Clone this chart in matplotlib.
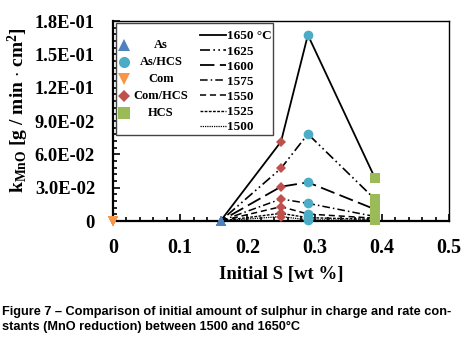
import matplotlib
matplotlib.use('Agg')
import matplotlib.pyplot as plt
from matplotlib.ticker import MultipleLocator, FixedLocator, FixedFormatter
from matplotlib.patches import Rectangle

# === Data ===
temps = ['1650 °C', '1625', '1600', '1575', '1550', '1525', '1500']
s_com, s_as, s_comhcs, s_ashcs, s_hcs = 0.0, 0.16, 0.25, 0.29, 0.39
k_com = [0, 0, 0, 0, 0, 0, 0]
k_as = [0, 0, 0, 0, 0, 0, 0]
k_comhcs = [0.0714, 0.0474, 0.0309, 0.0198, 0.0129, 0.0069, 0.0040]
k_ashcs = [0.1674, 0.0783, 0.0348, 0.0159, 0.0063, 0.0030, 0.0010]
k_hcs = [0.0384, 0.0195, 0.0105, 0.0040, 0.0025, 0.0015, 0.0008]

ytick_vals = [0, 0.03, 0.06, 0.09, 0.12, 0.15, 0.18]
ytick_labels = ['0', '3.0E-02', '6.0E-02', '9.0E-02', '1.2E-01', '1.5E-01', '1.8E-01']

styles = ['-', (0, (6, 2, 1, 2, 1, 2)), (0, (8, 3)), (0, (5, 2, 1, 2)),
          (0, (4, 2.5)), (0, (2, 1)), (0, (1, 0.8))]
widths = [1.3, 1.2, 1.3, 1.1, 1.1, 1.0, 0.9]

groups = [('As', s_as, k_as, '^', '#4F81BD'),
          ('As/HCS', s_ashcs, k_ashcs, 'o', '#4BACC6'),
          ('Com', s_com, k_com, 'v', '#F79646'),
          ('Com/HCS', s_comhcs, k_comhcs, 'D', '#C0504D'),
          ('HCS', s_hcs, k_hcs, 's', '#9BBB59')]

plt.rcParams['font.family'] = ['Liberation Serif', 'DejaVu Serif']
plt.rcParams['font.weight'] = 'bold'
plt.rcParams['mathtext.fontset'] = 'custom'
plt.rcParams['mathtext.bf'] = 'Liberation Serif:bold'
plt.rcParams['mathtext.rm'] = 'Liberation Serif:bold'
plt.rcParams['mathtext.default'] = 'bf'

fig = plt.figure(figsize=(4.73, 3.41), dpi=100)
ax = fig.add_axes([113 / 473, 1 - 221 / 341, 336 / 473, 200 / 341])

# === Lines per temperature ===
line_handles = []
for i, t in enumerate(temps):
    xs = [s_com, s_as, s_comhcs, s_ashcs, s_hcs]
    ys = [k_com[i], k_as[i], k_comhcs[i], k_ashcs[i], k_hcs[i]]
    ln, = ax.plot(xs, ys, color='black', linestyle=styles[i], linewidth=widths[i],
                  label=t, zorder=2)
    line_handles.append(ln)

# === Markers per sample ===
sizes = {'^': 7, 'o': 7, 'v': 7, 'D': 5.5, 's': 7}
for name, x, ks, m, c in groups:
    ax.plot([x] * len(ks), ks, linestyle='none', marker=m, color=c,
            markersize=sizes[m], markeredgewidth=0, zorder=3, clip_on=False)

ax.set_xlim(0, 0.5)
ax.set_ylim(0, 0.18)
ax.xaxis.set_major_locator(MultipleLocator(0.1))
ax.xaxis.set_minor_locator(MultipleLocator(0.02))
ax.yaxis.set_major_locator(FixedLocator(ytick_vals))
ax.yaxis.set_major_formatter(FixedFormatter(ytick_labels))
ax.yaxis.set_minor_locator(MultipleLocator(0.006))
ax.xaxis.set_major_formatter(plt.FuncFormatter(lambda v, p: '0' if v == 0 else f'{v:.1f}'))
ax.tick_params(which='both', direction='in', top=False, right=False, width=1.2)
ax.tick_params(which='major', length=5)
ax.tick_params(which='minor', length=3)
ax.tick_params(axis='x', pad=12, labelsize=14.5)
ax.tick_params(axis='y', pad=13, labelsize=13.3)
for side in ['left', 'bottom']:
    ax.spines[side].set_linewidth(1.6)
for side in ['top', 'right']:
    ax.spines[side].set_linewidth(1.0)

ax.set_xlabel('Initial S [wt %]', fontsize=13.5, fontweight='bold', labelpad=6)
ax.set_ylabel(r'k$_{MnO}$ [g / min $\cdot$ cm$^{2}$]', fontsize=14, fontweight='bold')
ax.yaxis.set_label_coords(-0.245, 0.555)

# === Legend box ===
ax.add_patch(Rectangle((0.009, 0.43), 0.466, 0.558, transform=ax.transAxes,
                       facecolor='white', edgecolor='#444444', linewidth=1.0, zorder=4))
mark_y = [0.88, 0.795, 0.71, 0.625, 0.54]
for (name, x, ks, m, c), yy in zip(groups, mark_y):
    ax.plot([0.033], [yy], transform=ax.transAxes, marker=m, color=c,
            markersize=sizes[m] + 1, markeredgewidth=0, zorder=5, clip_on=False)
    ax.text(0.143, yy, name, transform=ax.transAxes, ha='center', va='center',
            fontsize=9, fontweight='bold', zorder=5)

leg = ax.legend(handles=line_handles, loc='upper left', bbox_to_anchor=(0.23, 1.0),
                frameon=False, fontsize=9.5, handlelength=2.0, handletextpad=0.1,
                labelspacing=0.22, borderpad=0.2)
leg.set_zorder(6)

# === Caption ===
fig.text(2 / 473, 1 - 306 / 341,
         'Figure 7 – Comparison of initial amount of sulphur in charge and rate con-\n'
         'stants (MnO reduction) between 1500 and 1650°C',
         family=['Liberation Sans', 'DejaVu Sans'], fontweight='bold', fontsize=9.2,
         va='top', ha='left', linespacing=1.3)

fig.savefig('out.png', dpi=100)
